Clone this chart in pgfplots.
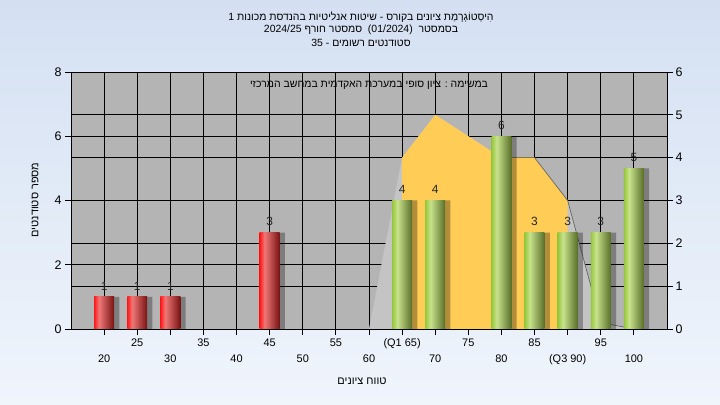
\documentclass[border=0pt]{standalone}
\usepackage{pgfplots}
\pgfplotsset{compat=1.18}
\usepackage{fontspec}
\setmainfont{Liberation Sans}
\newfontfamily\hebfont[Script=Hebrew]{Liberation Sans}
\TeXXeTstate=1
\definecolor{bgtop}{RGB}{212,224,242}
\definecolor{bgbot}{RGB}{240,245,252}
\definecolor{plotbg}{RGB}{180,180,180}
\definecolor{polygray}{RGB}{196,196,196}
\definecolor{areayel}{RGB}{255,204,85}
\definecolor{rb1}{RGB}{255,25,25}
\definecolor{rb2}{RGB}{240,120,120}
\definecolor{rb3}{RGB}{120,18,18}
\definecolor{gb1}{RGB}{150,200,60}
\definecolor{gb2}{RGB}{200,226,140}
\definecolor{gb3}{RGB}{88,110,40}
\pgfdeclarehorizontalshading{redbar}{100bp}{color(0bp)=(rb1); color(25bp)=(rb1); color(37bp)=(rb2); color(75bp)=(rb3); color(100bp)=(rb3)}
\pgfdeclarehorizontalshading{greenbar}{100bp}{color(0bp)=(gb1); color(25bp)=(gb1); color(38bp)=(gb2); color(75bp)=(gb3); color(100bp)=(gb3)}
\pgfplotsset{
  vallabel/.style={nodes near coords, nodes near coords style={font=\fontsize{12}{14}\selectfont, text=black!85, yshift=3bp}},
  redb/.style={ybar, bar width=3, bar shift=0, draw=none, shading=redbar, vallabel},
  greenb/.style={ybar, bar width=3, bar shift=0, draw=none, shading=greenbar, vallabel},
  shadowb/.style={ybar, bar width=3, bar shift=0.8, fill=black, draw=none, opacity=0.3},
}
\begin{document}
\begin{tikzpicture}
\shade[top color=bgtop, bottom color=bgbot] (0bp,0bp) rectangle (720bp,405bp);
\useasboundingbox (0bp,0bp) rectangle (720bp,405bp);
% ---------- axis 1: right scale, background, grid, distribution area
\begin{axis}[
  at={(71bp,76bp)}, anchor=south west, scale only axis,
  width=596bp, height=257bp,
  xmin=15, xmax=105, ymin=0, ymax=6,
  axis background/.style={fill=plotbg},
  xtick={20,25,...,100}, xticklabels={}, xtick pos=bottom,
  ytick={0,...,6}, ytick pos=right, yticklabel pos=right,
  extra y ticks={1.5,3,4.5}, extra y tick labels={},
  extra y tick style={grid=major, major tick length=0pt},
  grid=major, grid style={black, line width=0.9bp},
  tick align=outside, major tick length=6bp,
  axis line style={black, line width=0.9bp},
  tick style={black, line width=0.9bp},
  yticklabel style={font=\fontsize{12.5}{14}\selectfont, xshift=-1bp},
  /pgf/number format/assume math mode=true,
]
\addplot[fill=polygray, draw=none] coordinates {(60,0)(65,4)(70,5)(75,4.5)(80,4)(85,4)(90,3)(95,0.15)(100,0)} \closedcycle;
\addplot[fill=areayel, draw=none] coordinates {(65,0)(65,4)(70,5)(75,4.5)(80,4)(85,4)(90,3)(90,0)} \closedcycle;
\addplot[draw=black!60, line width=0.7bp] coordinates {(85,4)(90,3)(95,0.15)(100,0)};
\end{axis}
% ---------- axis 2: left scale, x ticks, bars
\begin{axis}[
  at={(71bp,76bp)}, anchor=south west, scale only axis,
  width=596bp, height=257bp,
  xmin=15, xmax=105, ymin=0, ymax=8,
  ytick={0,2,...,8}, ytick pos=left,
  xtick={25,35,...,95}, xtick pos=bottom,
  xticklabels={25,35,45,55,(Q1 65),75,85,95},
  extra x ticks={20,30,...,100},
  extra x tick labels={20,30,40,50,60,70,80,(Q3 90),100},
  extra x tick style={xticklabel style={yshift=-16bp}},
  tick align=outside, major tick length=6bp,
  axis line style={black, line width=0.9bp},
  tick style={black, line width=0.9bp},
  xticklabel style={font=\fontsize{11}{13}\selectfont},
  yticklabel style={font=\fontsize{12.5}{14}\selectfont},
  /pgf/number format/assume math mode=true,
  clip=false,
]
% shadows
\addplot[shadowb] coordinates {(20,1)(25,1)(30,1)(45,3)(65,4)(70,4)(80,6)(85,3)(90,3)(95,3)(100,5)};
% red bars (one plot per bar so each bar gets its own cylinder shading)
\addplot[redb] coordinates {(20,1)};
\addplot[redb] coordinates {(25,1)};
\addplot[redb] coordinates {(30,1)};
\addplot[redb] coordinates {(45,3)};
% green bars
\addplot[greenb] coordinates {(65,4)};
\addplot[greenb] coordinates {(70,4)};
\addplot[greenb] coordinates {(80,6)};
\addplot[greenb] coordinates {(85,3)};
\addplot[greenb] coordinates {(90,3)};
\addplot[greenb] coordinates {(95,3)};
\addplot[greenb] coordinates {(100,5)};
\node[font=\hebfont\fontsize{10.5}{12}\selectfont] at (rel axis cs:0.5,0.949)
  {\beginR במשימה : ציון סופי במערכת האקדמית במחשב המרכזי\endR};
\end{axis}
% ---------- titles and axis labels
\node[font=\hebfont\fontsize{10.5}{12}\selectfont] at (361bp,388bp)
  {\beginR הִיסְטוֹגְרָמַת ציונים בקורס - שיטות אנליטיות בהנדסת מכונות 1\endR};
\node[font=\hebfont\fontsize{10.5}{12}\selectfont] at (361bp,375bp)
  {\beginR בסמסטר\ \ \beginL(01/2024)\endL\ \ סמסטר חורף \beginL 2024/25\endL\endR};
\node[font=\hebfont\fontsize{10.5}{12}\selectfont] at (361bp,362bp)
  {\beginR סטודנטים רשומים - 35\endR};
\node[font=\hebfont\fontsize{11}{13}\selectfont, rotate=90] at (35bp,205bp)
  {\beginR מספר סטודנטים\endR};
\node[font=\hebfont\fontsize{11}{13}\selectfont] at (362bp,24bp)
  {\beginR טווח ציונים\endR};
\end{tikzpicture}
\end{document}
